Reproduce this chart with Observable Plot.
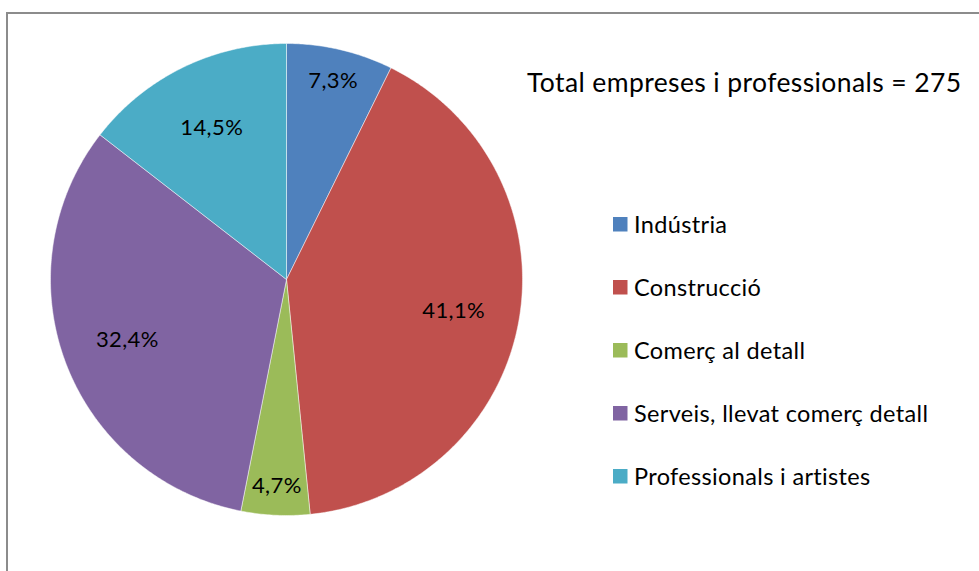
<!DOCTYPE html>
<html><head><meta charset="utf-8">
<script src="https://cdn.jsdelivr.net/npm/d3@7"></script>
<script src="https://cdn.jsdelivr.net/npm/@observablehq/plot@0.6"></script>
<style>
body{margin:0;background:#fff;}
#chart{position:relative;width:979px;height:571px;overflow:hidden;font-family:Lato,sans-serif;}
#chart svg{position:absolute;left:0;top:0;}
#frame{position:absolute;left:6px;top:12px;width:1000px;height:600px;border-left:2px solid #8c8c8c;border-top:2px solid #8c8c8c;}
</style></head><body>
<div id="chart"><div id="frame"></div></div>
<script>
const categories = ["Indústria", "Construcció", "Comerç al detall", "Serveis, llevat comerç detall", "Professionals i artistes"];
const values = [7.3, 41.1, 4.7, 32.4, 14.5];
const colors = ["#4F81BD", "#C0504D", "#9BBB59", "#8064A2", "#4BACC6"];
const titleText = "Total empreses i professionals = 275";

const total = d3.sum(values);
let cum = 0;
const slices = values.map((v, i) => {
  const a0 = cum / total * 2 * Math.PI; cum += v;
  const a1 = cum / total * 2 * Math.PI;
  return {name: categories[i], value: v, a0, a1};
});
const pts = [];
for (const s of slices) {
  pts.push({name: s.name, x: 0, y: 0});
  const n = Math.max(2, Math.ceil((s.a1 - s.a0) / (Math.PI / 360)));
  for (let k = 0; k <= n; k++) {
    const a = s.a0 + (s.a1 - s.a0) * k / n;
    pts.push({name: s.name, x: Math.sin(a), y: Math.cos(a)});
  }
  pts.push({name: s.name, x: 0, y: 0});
}
const labels = slices.map(s => {
  const m = (s.a0 + s.a1) / 2;
  const r = s.value / total < 0.1 ? 0.87 : 0.72;
  return {x: r * Math.sin(m), y: r * Math.cos(m), text: s.value.toFixed(1).replace(".", ",") + "%"};
});

const plot = Plot.plot({
  width: 979, height: 571,
  marginLeft: 50, marginRight: 457, marginTop: 43, marginBottom: 56,
  x: {domain: [-1, 1], axis: null},
  y: {domain: [-1, 1], axis: null},
  color: {domain: categories, range: colors},
  style: {background: "transparent", fontFamily: "Lato, sans-serif"},
  marks: [
    Plot.line(pts, {x: "x", y: "y", z: "name", fill: "name", stroke: "white", strokeWidth: 0.8, strokeOpacity: 0.6, curve: "linear"}),
    Plot.text(labels, {x: "x", y: "y", text: "text", fontSize: 22, fill: "black", dy: 1})
  ]
});
const svg = d3.select(plot);
svg.selectAll("text").attr("letter-spacing", 0.4);
svg.append("text").attr("x", 527).attr("y", 92).attr("font-size", 26.5).attr("letter-spacing", 0.4)
  .attr("text-anchor", "start").attr("fill", "black").attr("font-family", "Lato, sans-serif").text(titleText);
const leg = svg.append("g").attr("font-family", "Lato, sans-serif").attr("text-anchor", "start");
categories.forEach((c, i) => {
  const cy = 224 + 63 * i;
  leg.append("rect").attr("x", 613).attr("y", cy - 7).attr("width", 14.5).attr("height", 14.5).attr("fill", colors[i]);
  leg.append("text").attr("x", 634).attr("y", cy + 8.5).attr("font-size", 23.5).attr("letter-spacing", 0.35)
    .attr("fill", "black").text(c);
});
document.getElementById("chart").appendChild(plot);
</script>
</body></html>
